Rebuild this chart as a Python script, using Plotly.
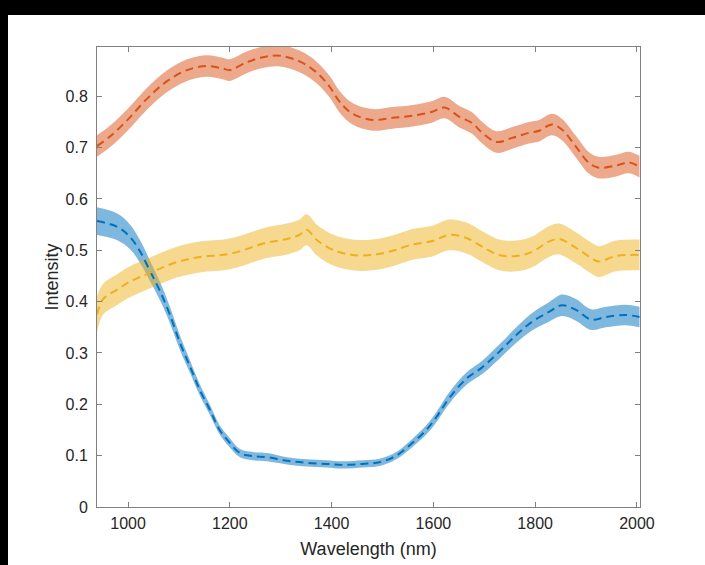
import plotly.graph_objects as go

# Wavelength (nm) sample positions and mean intensity per series
wl_orange = [939, 965, 1000, 1037, 1076, 1116, 1155, 1186, 1200, 1233, 1265, 1298, 1337, 1371,
             1396, 1416, 1441, 1480, 1520, 1559, 1598, 1622, 1651, 1676, 1696, 1724, 1755, 1788,
             1808, 1833, 1853, 1880, 1906, 1925, 1959, 1984, 2005]
orange = [0.703, 0.722, 0.755, 0.795, 0.829, 0.851, 0.859, 0.854, 0.851, 0.866, 0.876, 0.879,
          0.868, 0.846, 0.819, 0.789, 0.766, 0.754, 0.758, 0.762, 0.770, 0.778, 0.760, 0.748,
          0.729, 0.711, 0.719, 0.729, 0.733, 0.745, 0.735, 0.702, 0.670, 0.661, 0.665, 0.671, 0.663]
orange_err = [0.021] * len(orange)

wl_blue = [939, 978, 1004, 1024, 1043, 1063, 1082, 1102, 1122, 1141, 1161, 1180, 1200, 1220,
           1245, 1273, 1312, 1351, 1390, 1422, 1461, 1494, 1527, 1559, 1586, 1608, 1631, 1665,
           1696, 1729, 1763, 1794, 1827, 1853, 1880, 1910, 1939, 1978, 2005]
blue = [0.557, 0.546, 0.526, 0.497, 0.460, 0.420, 0.375, 0.320, 0.273, 0.228, 0.189, 0.150,
        0.125, 0.105, 0.099, 0.097, 0.090, 0.086, 0.084, 0.082, 0.084, 0.087, 0.100, 0.125,
        0.150, 0.178, 0.212, 0.250, 0.272, 0.302, 0.335, 0.361, 0.380, 0.393, 0.384, 0.365,
        0.370, 0.374, 0.370]
blue_err = [0.027, 0.026, 0.024, 0.022, 0.020, 0.018, 0.016, 0.014, 0.012, 0.011, 0.010, 0.009,
            0.009, 0.008, 0.008, 0.008, 0.007, 0.007, 0.007, 0.007, 0.007, 0.007, 0.007, 0.008,
            0.009, 0.010, 0.011, 0.012, 0.013, 0.014, 0.015, 0.017, 0.019, 0.021, 0.021, 0.020,
            0.020, 0.020, 0.020]

wl_yellow = [939, 951, 978, 1000, 1024, 1057, 1096, 1141, 1200, 1273, 1312, 1337, 1351, 1371,
             1402, 1441, 1480, 1520, 1557, 1598, 1631, 1665, 1696, 1729, 1763, 1794, 1827,
             1847, 1880, 1910, 1925, 1959, 2005]
yellow = [0.375, 0.405, 0.423, 0.437, 0.448, 0.462, 0.477, 0.487, 0.493, 0.515, 0.522, 0.530,
          0.540, 0.520, 0.501, 0.491, 0.491, 0.499, 0.511, 0.518, 0.530, 0.524, 0.507, 0.491,
          0.489, 0.497, 0.517, 0.522, 0.505, 0.485, 0.478, 0.489, 0.491]
yellow_err = [0.035] + [0.030] * (len(yellow) - 1)

x_ticks = [1000, 1200, 1400, 1600, 1800, 2000]
y_ticks = [0, 0.1, 0.2, 0.3, 0.4, 0.5, 0.6, 0.7, 0.8]

series = [
    (wl_orange, orange, orange_err, "#D95319", "rgba(217,83,25,0.5)"),
    (wl_blue, blue, blue_err, "#0072BD", "rgba(0,114,189,0.5)"),
    (wl_yellow, yellow, yellow_err, "#EDB120", "rgba(237,177,32,0.5)"),
]

fig = go.Figure()
for wl, m, e, lc, fc in series:
    up = [a + b for a, b in zip(m, e)]
    lo = [a - b for a, b in zip(m, e)]
    fig.add_trace(go.Scatter(x=wl, y=up, mode="lines", line=dict(width=0, shape="spline", color=fc),
                             hoverinfo="skip", showlegend=False))
    fig.add_trace(go.Scatter(x=wl, y=lo, mode="lines", line=dict(width=0, shape="spline", color=fc),
                             fill="tonexty", fillcolor=fc, hoverinfo="skip", showlegend=False))
for wl, m, e, lc, fc in series:
    fig.add_trace(go.Scatter(x=wl, y=m, mode="lines",
                             line=dict(color=lc, width=2, dash="8px,5px", shape="spline"),
                             showlegend=False))

axis_common = dict(showgrid=False, zeroline=False, showline=True, linecolor="#808080", linewidth=1,
                   mirror="ticks", ticks="inside", ticklen=5, tickcolor="#808080", automargin=False,
                   tickfont=dict(family="Liberation Sans, Arial", size=16, color="#262626"))

W, H = 705, 565
L, R, T, B = 97, 65, 47, 58
pw, ph = W - L - R, H - T - B
BL, BT = 8, 15  # black frame strips on the left and top

fig.update_layout(
    width=W, height=H,
    margin=dict(l=L, r=R, t=T, b=B),
    paper_bgcolor="white", plot_bgcolor="white",
    font=dict(family="Liberation Sans, Arial", color="#262626"),
    xaxis=dict(range=[939, 2006], tickvals=x_ticks, ticktext=[str(v) for v in x_ticks],
               ticklabelstandoff=2,
               title=dict(text="Wavelength (nm)", font=dict(size=18, color="#262626"), standoff=11),
               **axis_common),
    yaxis=dict(range=[0, 0.896], tickvals=y_ticks, ticktext=["0"] + [f"{v:g}" for v in y_ticks[1:]],
               ticklabelstandoff=5,
               title=dict(text="Intensity", font=dict(size=18, color="#262626"), standoff=2),
               **axis_common),
    shapes=[
        dict(type="rect", xref="paper", yref="paper", x0=-L/pw, x1=(pw+R)/pw,
             y0=(ph+T-BT)/ph, y1=(ph+T)/ph,
             fillcolor="black", line=dict(width=0), layer="above"),
        dict(type="rect", xref="paper", yref="paper", x0=-L/pw, x1=(-L+BL)/pw,
             y0=-B/ph, y1=(ph+T)/ph,
             fillcolor="black", line=dict(width=0), layer="above"),
    ],
)

fig.write_html("out.html", config={"displayModeBar": False},
               post_script="document.body.style.margin='0';document.body.style.overflow='hidden';")
